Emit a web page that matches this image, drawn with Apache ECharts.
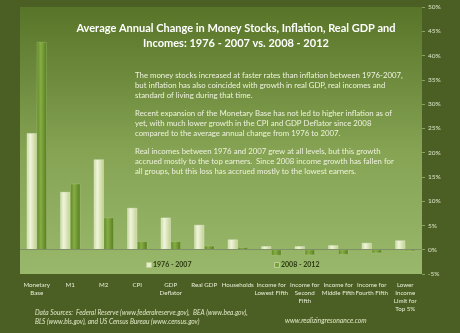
<!DOCTYPE html>
<html><head><meta charset="utf-8">
<script src="https://cdn.jsdelivr.net/npm/echarts@6/dist/echarts.min.js"></script>
<style>html,body{margin:0;padding:0;background:#4b5e23;}#c{width:460px;height:333px;}</style>
</head><body><div id="c"></div>
<script>
const categories = ['Monetary\nBase','M1','M2','CPI','GDP\nDeflator','Real GDP','Households','Income for\nLowest Fifth','Income for\nSecond\nFifth','Income for\nMiddle Fifth','Income for\nFourth Fifth','Lower\nIncome\nLimit for\nTop 5%'];
const period1Name = '1976 - 2007';
const period2Name = '2008 - 2012';
const period1 = [24.0, 11.9, 18.6, 8.6, 6.6, 5.1, 2.1, 0.7, 0.7, 0.9, 1.4, 1.9];
const period2 = [42.8, 13.6, 6.6, 1.7, 1.7, 0.8, 0.5, -1.2, -1.1, -1.0, -0.7, -0.3];
const yMin = -5, yMax = 50, yStep = 5;
const titleText = 'Average Annual Change in Money Stocks, Inflation, Real GDP and\nIncomes: 1976 - 2007 vs. 2008 - 2012';
const notes = [
 'The money stocks increased at faster rates than inflation between 1976-2007,\nbut inflation has also coincided with growth in real GDP, real incomes and\nstandard of living during that time.',
 'Recent expansion of the Monetary Base has not led to higher inflation as of\nyet, with much lower growth in the CPI and GDP Deflator since 2008\ncompared to the average annual change from 1976 to 2007.',
 'Real incomes between 1976 and 2007 grew at all levels, but this growth\naccrued mostly to the top earners.  Since 2008 income growth has fallen for\nall groups, but this loss has accrued mostly to the lowest earners.'
];
const sourceText = 'Data Sources:  Federal Reserve (www.federalreserve.gov),  BEA (www.bea.gov),\nBLS (www.bls.gov), and US Census Bureau (www.census.gov)';
const siteText = 'www.realizingresonance.com';

const chart = echarts.init(document.getElementById('c'), null, {renderer:'canvas'});
const FONT = 'Lato';
const lightGrad = new echarts.graphic.LinearGradient(0,0,1,0,[{offset:0,color:'#c9d89e'},{offset:0.35,color:'#f0f5dc'},{offset:1,color:'#bfd08e'}]);
const darkGrad = new echarts.graphic.LinearGradient(0,0,1,0,[{offset:0,color:'#5f8a25'},{offset:0.4,color:'#86ad45'},{offset:1,color:'#557c1f'}]);
chart.setOption({
  backgroundColor:'#4b5e23',
  animation:false,
  title:{text:titleText,top:16,textAlign:'center',left:231,
    textStyle:{color:'#ffffff',fontFamily:FONT,fontWeight:'bold',fontSize:11,lineHeight:15}},
  grid:{left:20,right:38,top:7,bottom:59,show:true,borderWidth:0,
    backgroundColor:new echarts.graphic.LinearGradient(0,0,0,1,[{offset:0,color:'#587428'},{offset:0.55,color:'#86a454'},{offset:1,color:'#9ab86b'}])},
  legend:{show:false},
  xAxis:{type:'category',data:categories,
    axisLine:{show:false},axisTick:{show:false},
    axisLabel:{interval:0,color:'#e8eed6',fontFamily:FONT,fontSize:6.2,lineHeight:8,margin:7}},
  yAxis:{type:'value',position:'right',min:yMin,max:yMax,interval:yStep,
    axisLine:{show:false},axisTick:{show:true,length:3,lineStyle:{color:'#8aa060'}},splitLine:{show:false},
    axisLabel:{color:'#dfe6c8',fontFamily:FONT,fontSize:6.5,margin:6,formatter:v=>v+'%'}},
  series:[
    {name:period1Name,type:'bar',data:period1,barWidth:10,barGap:'0%',
      itemStyle:{color:lightGrad,borderColor:'rgba(255,255,255,0.6)',borderWidth:0.5},
      markLine:{silent:true,symbol:'none',label:{show:false},lineStyle:{color:'#7f8f66',width:1,type:'solid'},data:[{yAxis:0}]}},
    {name:period2Name,type:'bar',data:period2,barWidth:10,
      itemStyle:{color:darkGrad,borderColor:'rgba(200,220,150,0.5)',borderWidth:0.5}}
  ],
  graphic:[
    {type:'text',left:135,top:70,style:{text:notes[0],fill:'#eef2dd',font:'7.8px '+FONT,lineHeight:10}},
    {type:'text',left:135,top:108,style:{text:notes[1],fill:'#eef2dd',font:'7.8px '+FONT,lineHeight:10}},
    {type:'text',left:135,top:146,style:{text:notes[2],fill:'#eef2dd',font:'7.8px '+FONT,lineHeight:10}},
    {type:'rect',left:146,top:262,shape:{width:5,height:5},style:{fill:'#e6eecb',stroke:'#c0cf98'}},
    {type:'text',left:153,top:261,style:{text:period1Name,fill:'#2c3a12',font:'bold 7px '+FONT}},
    {type:'rect',left:274,top:262,shape:{width:5,height:5},style:{fill:'#78a23a',stroke:'#c0cf98'}},
    {type:'text',left:281,top:261,style:{text:period2Name,fill:'#2c3a12',font:'bold 7px '+FONT}},
    {type:'text',left:35,top:308,style:{text:sourceText,fill:'#e2e9c8',font:'italic 6.6px '+FONT,lineHeight:9}},
    {type:'text',left:285,top:317,style:{text:siteText,fill:'#e2e9c8',font:'italic 6.8px '+FONT}}
  ]
});
</script></body></html>
